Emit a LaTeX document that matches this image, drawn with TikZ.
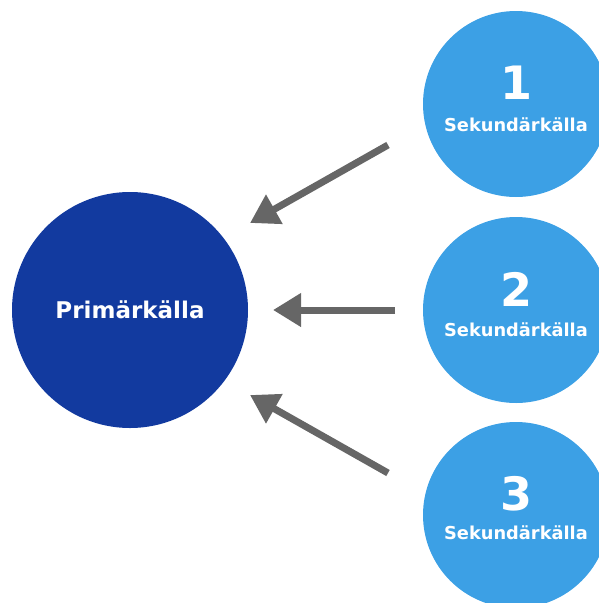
\documentclass[tikz,border=0pt]{standalone}
\usepackage{fontspec}
\setmainfont{DejaVu Sans}
\usetikzlibrary{arrows.meta, positioning, calc}

\definecolor{primblue}{HTML}{123A9F}
\definecolor{sekblue}{HTML}{3CA0E5}
\definecolor{pilgray}{HTML}{666666}

\tikzset{
  primcircle/.style={circle, fill=primblue, minimum size=236pt, inner sep=0pt},
  sekcircle/.style={circle, fill=sekblue, minimum size=186pt, inner sep=0pt},
  nummer/.style={text=white, inner sep=0pt, font=\bfseries\fontsize{46}{46}\selectfont},
  sektext/.style={text=white, inner sep=0pt, font=\bfseries\fontsize{17.8}{20}\selectfont},
  pil/.style={draw=pilgray, line width=7pt, -{Triangle[length=28pt, width=32pt]}}
}

\begin{document}
\begin{tikzpicture}[x=1pt, y=-1pt]
  \useasboundingbox (0,0) rectangle (598,603);

  % Primary source
  \node[primcircle] (prim) at (130,310) {};
  \node[text=white, inner sep=0pt, font=\bfseries\fontsize{23}{26}\selectfont] (primtext) at (prim) {Primärkälla};

  % Secondary sources
  \node[sekcircle] (sek1) at (516,104) {};
  \node[sekcircle] (sek2) at (516,310) {};
  \node[sekcircle] (sek3) at (516,515) {};

  \node[nummer] (num1) at ($(sek1)+(0,-21)$) {1};
  \node[sektext] (text1) at ($(sek1)+(0,21)$) {Sekundärkälla};
  \node[nummer] (num2) at ($(sek2)+(0,-21)$) {2};
  \node[sektext] (text2) at ($(sek2)+(0,20)$) {Sekundärkälla};
  \node[nummer] (num3) at ($(sek3)+(0,-21)$) {3};
  \node[sektext] (text3) at ($(sek3)+(0,18)$) {Sekundärkälla};

  % Arrows
  \draw[pil] ($(sek1)+(-128,41)$) -- ($(prim)+(120,-87)$);
  \draw[pil] ($(sek2)+(-121,0)$) -- ($(prim)+(143,0)$);
  \draw[pil] ($(sek3)+(-128,-42)$) -- ($(prim)+(120,85)$);
\end{tikzpicture}
\end{document}
